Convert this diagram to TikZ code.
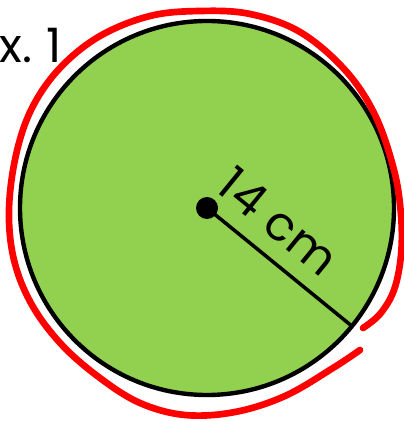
\documentclass[tikz,border=0pt]{standalone}
\usepackage{fontspec}
\setmainfont{Poppins}
\usetikzlibrary{calc}
\definecolor{leafc}{HTML}{92D050}
\definecolor{penred}{HTML}{FF0000}
\tikzset{
  rim/.style={draw=black,line width=2.5pt,fill=leafc},
  hand/.style={penred,line width=3.8pt,line cap=round,line join=round},
  rad/.style={black,line width=2pt},
  lbl/.style={font=\fontsize{27}{30}\selectfont,inner sep=0pt}
}

\begin{document}
\begin{tikzpicture}[x=0.02cm,y=-0.02cm]
\useasboundingbox (0,0) rectangle (404,421);
\coordinate (O) at (207,208);
\coordinate (R) at (353,327);
\draw[rim] (O) circle (187);
% red pen stroke round the disc
\draw[hand] plot[smooth,tension=0.6] coordinates {
  (363,328) (380,314) (394,290) (401,255) (401,215) (394,170)
  (375,115) (345,70) (300,32) (250,14) (200,11) (150,16)
  (100,36) (60,68) (32,108) (16,155) (9,210) (14,260) (32,305)
  (62,345) (100,378) (140,403) (185,415) (235,412) (285,396) (333,368)
  (360,350)};
\draw[rad] (O) -- (R);
\fill (O) circle (11);
\node[lbl,rotate=-39.2,anchor=base] (len) at ($(O)!0.34!(R)!0.36cm!90:(R)$) {1\kern1pt4 c\kern1pt m};
\node[lbl,anchor=base west] (ex) at (-1,63) {x.\hspace{0.3em}1};
\end{tikzpicture}
\end{document}
